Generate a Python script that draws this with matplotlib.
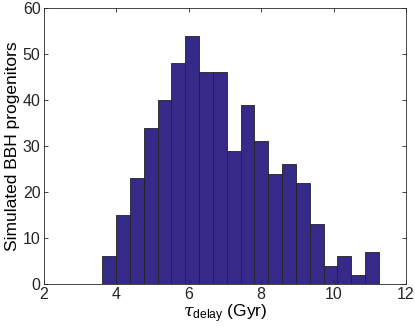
import matplotlib
matplotlib.use("Agg")
import matplotlib.pyplot as plt
import numpy as np

plt.rcParams['font.family'] = ['Liberation Sans', 'DejaVu Sans']
plt.rcParams['mathtext.fontset'] = 'custom'
plt.rcParams['mathtext.rm'] = 'Liberation Sans'
plt.rcParams['mathtext.it'] = 'DejaVu Serif:italic'

bin_start = 3.61
bin_width = 0.382
counts = [6, 15, 23, 34, 40, 48, 54, 46, 46, 29, 39, 31, 24, 26, 22, 13, 4, 6, 2, 7]
xticks = [2, 4, 6, 8, 10, 12]
yticks = [0, 10, 20, 30, 40, 50, 60]

edges = bin_start + bin_width * np.arange(len(counts))

fig = plt.figure(figsize=(4.15, 3.33), dpi=100)
ax = fig.add_axes([44/415, 1-284/333, (406-44)/415, (284-8)/333])
ax.bar(edges, counts, width=bin_width, align='edge',
       color=(0.2081, 0.1663, 0.5292), edgecolor='#222222', linewidth=0.6)
ax.set_xlim(2, 12)
ax.set_ylim(0, 60)
ax.set_xticks(xticks)
ax.set_yticks(yticks)
ax.tick_params(direction='in', top=True, right=True, labelsize=11.5, length=3, width=0.6,
               colors='#262626', pad=2.5)
for s in ax.spines.values():
    s.set_linewidth(0.6)
    s.set_color('#262626')
ax.set_xlabel(r'$\mathit{\tau}_{\mathrm{delay}}$ (Gyr)', fontsize=12.5, labelpad=0)
ax.set_ylabel('Simulated BBH progenitors', fontsize=12.5, labelpad=2)
fig.savefig('out.png', dpi=100)
